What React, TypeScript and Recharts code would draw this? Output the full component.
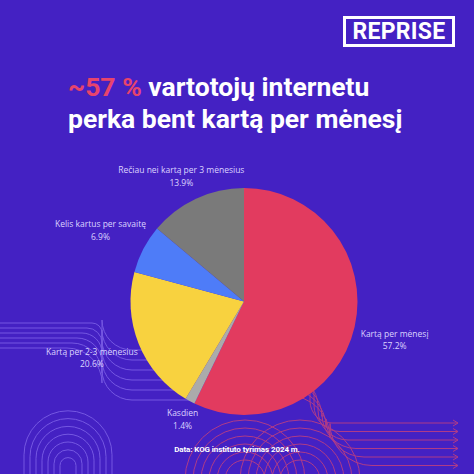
import React from 'react';
import { PieChart, Pie, Cell } from 'recharts';

const categories = [
  'Kartą per mėnesį',
  'Kasdien',
  'Kartą per 2-3 mėnesius',
  'Kelis kartus per savaitę',
  'Rečiau nei kartą per 3 mėnesius',
];
const shares = [57.2, 1.4, 20.6, 6.9, 13.9];
const sliceColors = ['#E23B5F', '#ABABAB', '#F8D23F', '#4E7CF8', '#7A7A7A'];

const data = categories.map((name, i) => ({ name, value: shares[i] }));

const BG = '#4421C3';
const LABEL_FONT = '8.5px "Open Sans"';
const RADIAN = Math.PI / 180;

let ctx: CanvasRenderingContext2D | null = null;
const textWidth = (s: string) => {
  if (!ctx) ctx = document.createElement('canvas').getContext('2d');
  if (!ctx) return s.length * 4;
  ctx.font = LABEL_FONT;
  return ctx.measureText(s).width;
};

const renderLabel = (props: any) => {
  const { cx, cy, midAngle, outerRadius, name, value } = props;
  const dx = Math.cos(-midAngle * RADIAN);
  const dy = Math.sin(-midAngle * RADIAN);
  const halfW = textWidth(name) / 2;
  const halfH = 13;
  const r = outerRadius + 8;
  const x = cx + dx * r + halfW * dx * Math.abs(dx);
  const y = cy + dy * r + halfH * Math.sign(dy) - 3;
  return (
    <text x={x} y={y} textAnchor="middle" fill="#DCD4FF" style={{ font: LABEL_FONT }}>
      <tspan x={x} dy={-2}>{name}</tspan>
      <tspan x={x} dy={12.5}>{`${value.toFixed(1)}%`}</tspan>
    </text>
  );
};

// background line ornaments
const Decor = () => {
  const left: string[] = [];
  for (let i = 0; i < 6; i++) {
    const y0 = 323 + i * 5;
    const xTurn = 92 - i * 5;
    const rad = 10 + i * 5;
    const y1 = 410 - i * 5;
    left.push(`M0 ${y0} H${xTurn} A${rad} ${rad} 0 0 1 ${xTurn + rad} ${y0 + rad} V${y1 - rad - 30} A30 30 0 0 0 ${xTurn + rad + 30} ${y1 - rad} H200`);
  }
  const arches: string[] = [];
  for (let i = 0; i < 7; i++) {
    const rr = 44 - i * 6;
    arches.push(`M${68 - rr} 480 V${468 - rr * 0.3} A${rr} ${rr} 0 0 1 ${68 + rr} ${468 - rr * 0.3} V480`);
  }
  const right: string[] = [];
  for (let i = 0; i < 6; i++) {
    const y = 423 + i * 8.5;
    const xs = 330 + i * 4;
    const rad = 22 + i * 4;
    right.push(`M${xs - 60 - i * 6} ${y - 60 - i * 2} H${xs - rad - 20} A${rad} ${rad} 0 0 1 ${xs - 20} ${y - 60 + rad - i * 2} V${y - rad} A${rad} ${rad} 0 0 0 ${xs + rad - 20} ${y} H458`);
    right.push(`M453 ${y - 3} L458 ${y} L453 ${y + 3}`);
  }
  const midArcs: string[] = [];
  for (let i = 0; i < 6; i++) {
    const rr = 60 - i * 8;
    midArcs.push(`M${245 - rr} 480 A${rr} ${rr} 0 0 1 ${245 + rr} 480`);
    midArcs.push(`M${300 - rr} 480 A${rr} ${rr} 0 0 1 ${300 + rr} 480`);
  }
  return (
    <svg width={474} height={474} style={{ position: 'absolute', left: 0, top: 0 }}>
      <g fill="none" stroke="#8A6FF0" strokeWidth={1} opacity={0.7}>
        {left.map((d, i) => <path key={`l${i}`} d={d} />)}
        {arches.map((d, i) => <path key={`a${i}`} d={d} />)}
      </g>
      <g fill="none" stroke="#C2407E" strokeWidth={1} opacity={0.85}>
        {right.map((d, i) => <path key={`r${i}`} d={d} />)}
        {midArcs.map((d, i) => <path key={`m${i}`} d={d} />)}
      </g>
    </svg>
  );
};

const App = () => {
  return (
    <div style={{ position: 'absolute', left: 0, top: 0, width: 474, height: 474, background: BG, overflow: 'hidden', fontFamily: 'Roboto, sans-serif' }}>
      <Decor />
      <div style={{
        position: 'absolute', left: 343, top: 16, width: 106, height: 25,
        border: '3px solid #fff', color: '#fff', fontWeight: 700, fontSize: 23,
        lineHeight: '25px', textAlign: 'center', letterSpacing: 0.3,
      }}>REPRISE</div>
      <div style={{
        position: 'absolute', left: 68, top: 71, color: '#fff', fontWeight: 700,
        fontSize: 26.5, lineHeight: '32px', whiteSpace: 'nowrap',
      }}>
        <span style={{ color: '#E8446C' }}>~57 %</span> vartotojų internetu<br />
        perka bent kartą per mėnesį
      </div>
      <div style={{ position: 'absolute', left: 0, top: 0 }}>
        <PieChart width={474} height={474}>
          <Pie
            data={data}
            dataKey="value"
            nameKey="name"
            cx={239}
            cy={296.5}
            outerRadius={113.5}
            startAngle={90}
            endAngle={-270}
            stroke="none"
            labelLine={false}
            label={renderLabel}
            isAnimationActive={false}
          >
            {data.map((entry, i) => (
              <Cell key={`cell-${entry.name}`} fill={sliceColors[i]} />
            ))}
          </Pie>
        </PieChart>
      </div>
      <div style={{
        position: 'absolute', left: 0, width: 474, top: 445, textAlign: 'center',
        color: '#fff', fontWeight: 700, fontSize: 8, letterSpacing: -0.1,
      }}>Data: KOG instituto tyrimas 2024 m.</div>
    </div>
  );
};

export default App;
